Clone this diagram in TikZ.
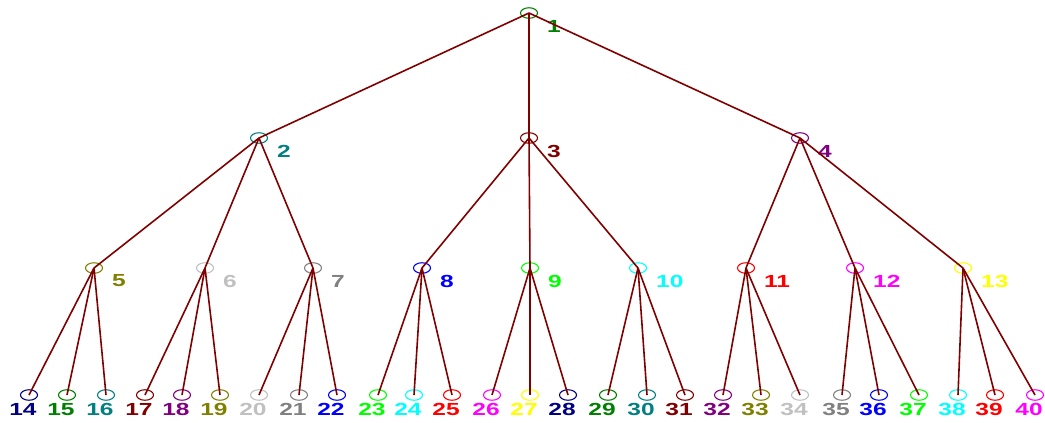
\documentclass[tikz,border=0pt]{standalone}
\usepackage{fontspec}
\setmainfont{Liberation Sans}
\usetikzlibrary{shapes.geometric}
\definecolor{c1}{HTML}{008000}
\definecolor{c2}{HTML}{008080}
\definecolor{c3}{HTML}{800000}
\definecolor{c4}{HTML}{800080}
\definecolor{c5}{HTML}{808000}
\definecolor{c6}{HTML}{C0C0C0}
\definecolor{c7}{HTML}{808080}
\definecolor{c8}{HTML}{0000FF}
\definecolor{c9}{HTML}{00FF00}
\definecolor{c10}{HTML}{00FFFF}
\definecolor{c11}{HTML}{FF0000}
\definecolor{c12}{HTML}{FF00FF}
\definecolor{c13}{HTML}{FFFF00}
\definecolor{c14}{HTML}{000080}
\definecolor{linkcol}{HTML}{800000}
\newcommand{\lbltext}[1]{\scalebox{1.4}[1]{#1}}
\tikzset{
  vtx/.style={ellipse, draw, line width=1.1pt, minimum width=17pt, minimum height=10.5pt, inner sep=0pt},
  lbl/.style={font=\bfseries\fontsize{17.5}{17.5}\selectfont, inner sep=0pt},
  link/.style={draw=linkcol, line width=1.6pt}
}
\begin{document}
\begin{tikzpicture}[x=1pt,y=-1pt]
\useasboundingbox (0,0) rectangle (1045,423);
% inner nodes with labels to the lower right
\foreach \i/\x/\y in {1/529/13, 2/259/138, 3/529/138, 4/800/138,
  5/94/268, 6/205/268, 7/313/268, 8/422/268, 9/530/268, 10/638/268,
  11/746/268, 12/855/268, 13/963/268} {
  \pgfmathtruncatemacro\c{mod(\i-1,14)+1}
  \node[vtx, draw=c\c] (n\i) at (\x,\y) {};
  \node[lbl, text=c\c, anchor=west] (l\i) at (\x+18,\y+13) {\lbltext{\i}};
}
% leaves with labels below
\foreach \i/\x in {14/29, 15/67, 16/106, 17/145, 18/182, 19/220, 20/259, 21/299, 22/337,
  23/378, 24/414, 25/452, 26/492, 27/530, 28/568, 29/608, 30/647, 31/685,
  32/723, 33/761, 34/800, 35/842, 36/879, 37/919, 38/958, 39/995, 40/1035} {
  \pgfmathtruncatemacro\c{mod(\i-1,14)+1}
  \node[vtx, draw=c\c] (n\i) at (\x,395) {};
  \node[lbl, text=c\c] (l\i) at (\x-6,409.5) {\lbltext{\i}};
}
% connectors
\foreach \p in {1,...,13} {
  \pgfmathtruncatemacro\a{3*\p-1}
  \pgfmathtruncatemacro\b{3*\p}
  \pgfmathtruncatemacro\d{3*\p+1}
  \draw[link] (n\p.center) -- (n\a.center);
  \draw[link] (n\p.center) -- (n\b.center);
  \draw[link] (n\p.center) -- (n\d.center);
}
\end{tikzpicture}
\end{document}
